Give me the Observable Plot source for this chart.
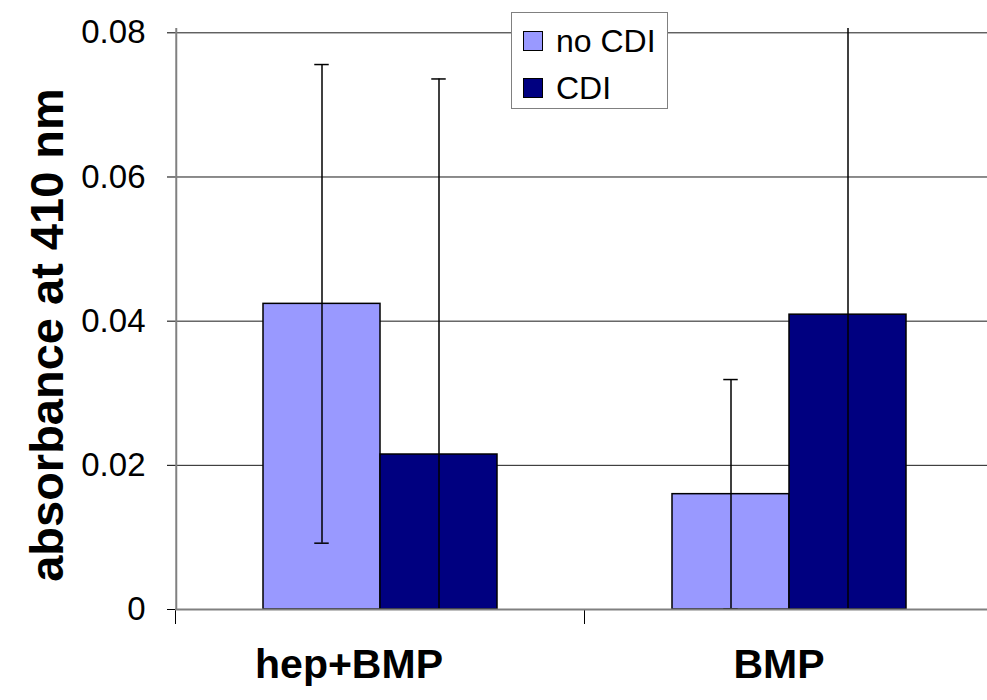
<!DOCTYPE html>
<html>
<head>
<meta charset="utf-8">
<script src="https://cdn.jsdelivr.net/npm/d3@7"></script>
<script src="https://cdn.jsdelivr.net/npm/@observablehq/plot@0.6"></script>
<style>
  body { margin: 0; background: #fff; }
  #wrap { position: relative; width: 987px; height: 700px; overflow: hidden; font-family: "Liberation Sans", Arial, sans-serif; }
  #wrap svg { max-width: none; }
  #legend { position: absolute; left: 511px; top: 12px; width: 157px; height: 97px; box-sizing: border-box;
            border: 1px solid #808080; background: #fff; font-size: 32px; color: #000; }
  #legend .item { position: absolute; left: 11px; display: flex; align-items: center; line-height: 1; }
  #legend .sw { width: 20px; height: 20px; border: 1px solid #000; box-sizing: border-box; margin-right: 13px; }
</style>
</head>
<body>
<div id="wrap"></div>
<script>
// ---- data ----
const groups = ["hep+BMP", "BMP"];
const series = ["no CDI", "CDI"];
const valuesNoCDI = [0.0424, 0.0160];
const valuesCDI = [0.0215, 0.0409];
const errNoCDI = [0.0332, 0.0159];
const errCDI = [0.0521, 0.0415];
const yTicks = [0, 0.02, 0.04, 0.06, 0.08];
const yTickLabels = ["0", "0.02", "0.04", "0.06", "0.08"];
const yTitle = "absorbance at 410 nm";
const colors = ["#9999FF", "#000080"];

const rows = [];
groups.forEach((g, i) => {
  rows.push({group: g, series: series[0], value: valuesNoCDI[i], err: errNoCDI[i]});
  rows.push({group: g, series: series[1], value: valuesCDI[i], err: errCDI[i]});
});

// ---- layout ----
const W = 993, H = 700, ML = 175, MT = 28, MB = 91;
const padOuter = 0.74;
const bandFx = (W - ML) / groups.length;
const step = bandFx / (series.length + 2 * padOuter);
const dxEdge = -(step * padOuter + step / 2);
const capInset = (step - 15) / 2;
const catFont = {frameAnchor: "bottom", lineAnchor: "top", dy: 39, fontSize: 41, fontWeight: "bold", fill: "#000", text: d => d};

const chart = Plot.plot({
  width: W, height: H,
  marginLeft: ML, marginRight: 0, marginTop: MT, marginBottom: MB,
  style: {fontFamily: "'Liberation Sans', Arial, sans-serif", background: "#fff", color: "#000", maxWidth: "none"},
  fx: {domain: groups, padding: 0, label: null, axis: null},
  x: {domain: series, paddingInner: 0, paddingOuter: padOuter, axis: null},
  y: {domain: [0, 0.0806], label: null, axis: null},
  color: {domain: series, range: colors},
  marks: [
    Plot.gridY(yTicks, {stroke: "#000", strokeOpacity: 0.9}),
    Plot.axisY(yTicks, {tickSize: 8, tickPadding: 22, fontSize: 33, tickFormat: (d, i) => yTickLabels[i], label: null, stroke: "#000"}),
    Plot.text([yTitle], {fx: () => groups[0], frameAnchor: "left", rotate: -90, lineAnchor: "middle", textAnchor: "middle", dx: -128, dy: 16, fontSize: 47, fontWeight: "bold", fill: "#000", text: d => d}),
    Plot.axisFx({anchor: "bottom", tickSize: 15, text: null, dx: -bandFx / 2, label: null}),
    Plot.text([groups[0]], {fx: d => d, dx: -31, ...catFont}),
    Plot.text([groups[1]], {fx: d => d, dx: -10, ...catFont}),
    Plot.barY(rows, {fx: "group", x: "series", y: "value", fill: "series", stroke: "#000", strokeWidth: 1.5}),
    Plot.ruleX(rows, {fx: "group", x: "series", y1: d => d.value - d.err, y2: d => d.value + d.err, stroke: "#000", strokeWidth: 1.5, clip: true}),
    Plot.tickY(rows, {fx: "group", x: "series", y: d => d.value - d.err, insetLeft: capInset, insetRight: capInset, stroke: "#000", strokeWidth: 1.5, clip: true}),
    Plot.tickY(rows, {fx: "group", x: "series", y: d => d.value + d.err, insetLeft: capInset, insetRight: capInset, stroke: "#000", strokeWidth: 1.5, clip: true}),
    Plot.ruleY([0], {stroke: "#808080", strokeWidth: 2}),
    Plot.ruleX(groups.slice(0, 1), {fx: d => d, x: () => series[0], y1: 0, y2: 0.0806, dx: dxEdge, stroke: "#808080", strokeWidth: 2})
  ]
});

const wrap = document.getElementById("wrap");
wrap.appendChild(chart);

// legend
const legend = document.createElement("div");
legend.id = "legend";
series.forEach((s, i) => {
  const item = document.createElement("div");
  item.className = "item";
  item.style.top = (i === 0 ? 12 : 59) + "px";
  const sw = document.createElement("div");
  sw.className = "sw";
  sw.style.background = colors[i];
  const t = document.createElement("span");
  t.textContent = s;
  item.appendChild(sw);
  item.appendChild(t);
  legend.appendChild(item);
});
wrap.appendChild(legend);
</script>
</body>
</html>
